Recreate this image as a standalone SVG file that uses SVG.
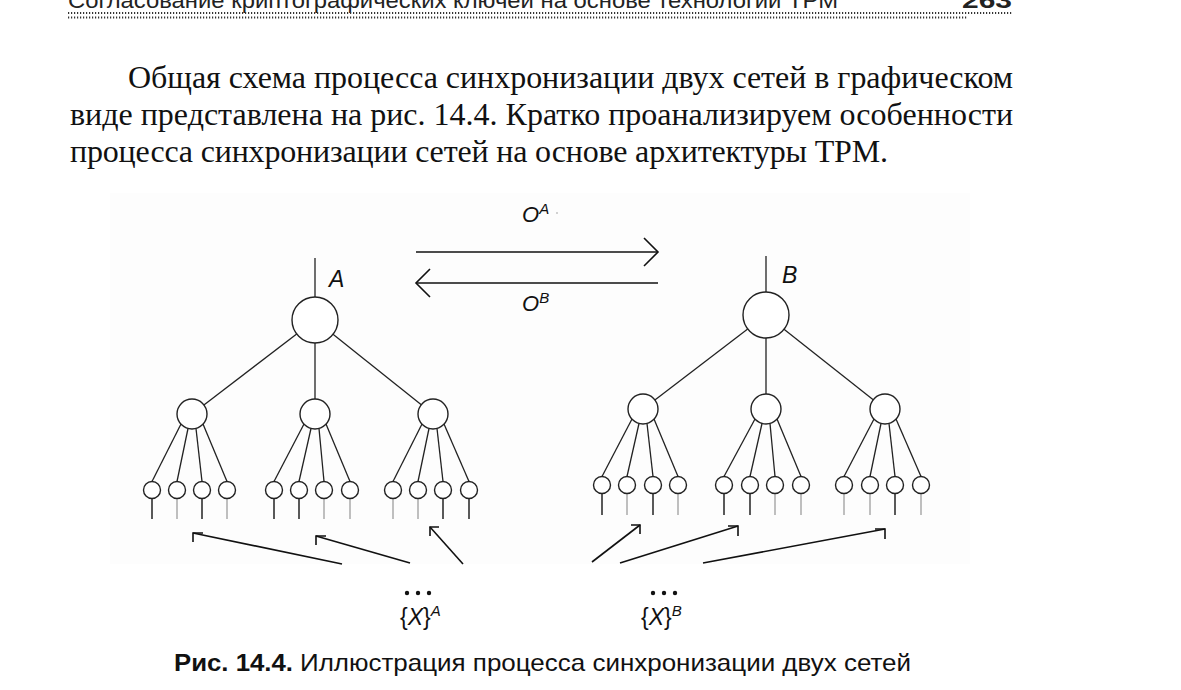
<svg xmlns="http://www.w3.org/2000/svg" width="1181" height="690" viewBox="0 0 1181 690">
<defs>
<style>
.hdr{font-family:"Liberation Sans",Arial,sans-serif;font-size:22px;fill:#222}
.body{font-family:"Liberation Serif","Times New Roman",serif;font-size:32px;fill:#111}
.lbl{font-family:"Liberation Sans",Arial,sans-serif;font-style:italic;fill:#111}
.cap{font-family:"Liberation Sans",Arial,sans-serif;font-size:24px;fill:#111}
.dots{stroke:#333;stroke-width:2;stroke-dasharray:1.2 1.8;fill:none}
.edge{stroke:#222;stroke-width:1.3;fill:none}
.node{fill:#fff;stroke:#222;stroke-width:1.4}
.stemK{stroke:#222;stroke-width:1.5}
.stemG{stroke:#aaa;stroke-width:1.5}
.arr{stroke:#111;stroke-width:1.6;fill:none}
</style>
</defs>
<rect width="1181" height="690" fill="#fff"/>
<!-- running header (cut at top) -->
<text class="hdr" x="68" y="8" textLength="770" lengthAdjust="spacingAndGlyphs">Согласование криптографических ключей на основе технологии ТРМ</text>
<text class="hdr" x="962" y="8" font-weight="bold" textLength="50" lengthAdjust="spacingAndGlyphs">263</text>
<line class="dots" x1="68" y1="13" x2="1013" y2="13"/>
<line class="dots" x1="68" y1="17.5" x2="968" y2="17.5"/>
<!-- paragraph -->
<text class="body" x="128" y="88" textLength="885" lengthAdjust="spacing">Общая схема процесса синхронизации двух сетей в графическом</text>
<text class="body" x="70" y="125" textLength="943" lengthAdjust="spacing">виде представлена на рис. 14.4. Кратко проанализируем особенности</text>
<text class="body" x="70" y="162" textLength="818" lengthAdjust="spacing">процесса синхронизации сетей на основе архитектуры ТРМ.</text>
<!-- figure background -->
<rect x="110" y="193" width="860" height="371" fill="#fdfdfd"/>
<!-- exchange arrows -->
<g id="exchange">
<line class="arr" x1="416" y1="252" x2="658" y2="252"/>
<polyline class="arr" points="644,238 658,252 644,266"/>
<line class="arr" x1="416" y1="283" x2="658" y2="283"/>
<polyline class="arr" points="430,269 416,283 430,297"/>
<text class="lbl" x="522" y="222" font-size="22">O<tspan font-size="15" dy="-8">A</tspan></text>
<circle cx="557" cy="213" r="0.8" fill="#999"/>
<text class="lbl" x="522" y="311" font-size="22">O<tspan font-size="15" dy="-8">B</tspan></text>
</g>
<!-- connectors -->
<g id="connectors">
<!-- tree A -->
<line class="edge" x1="315" y1="258" x2="315" y2="297"/>
<line class="edge" x1="296.7" y1="334" x2="203.9" y2="404.9"/>
<line class="edge" x1="315" y1="343" x2="315" y2="399"/>
<line class="edge" x1="333" y1="334.3" x2="421.3" y2="404.7"/>
<line class="edge" x1="181" y1="424" x2="152" y2="481.5"/>
<line class="edge" x1="188" y1="428.5" x2="177" y2="481.5"/>
<line class="edge" x1="196" y1="428.5" x2="202" y2="481.5"/>
<line class="edge" x1="203" y1="424" x2="227" y2="481.5"/>
<line class="edge" x1="304" y1="424" x2="274" y2="481.5"/>
<line class="edge" x1="311" y1="428.5" x2="299" y2="481.5"/>
<line class="edge" x1="319" y1="428.5" x2="324" y2="481.5"/>
<line class="edge" x1="326" y1="424" x2="350" y2="481.5"/>
<line class="edge" x1="422" y1="424" x2="393" y2="481.5"/>
<line class="edge" x1="429" y1="428.5" x2="418" y2="481.5"/>
<line class="edge" x1="437" y1="428.5" x2="443" y2="481.5"/>
<line class="edge" x1="444" y1="424" x2="469" y2="481.5"/>
<!-- tree B -->
<line class="edge" x1="766" y1="256" x2="766" y2="292"/>
<line class="edge" x1="747.7" y1="329" x2="654.9" y2="399.9"/>
<line class="edge" x1="766" y1="338" x2="766" y2="394"/>
<line class="edge" x1="784" y1="329.3" x2="873.2" y2="399.7"/>
<line class="edge" x1="632" y1="419" x2="602" y2="476.5"/>
<line class="edge" x1="639" y1="423.5" x2="627" y2="476.5"/>
<line class="edge" x1="647" y1="423.5" x2="653" y2="476.5"/>
<line class="edge" x1="654" y1="419" x2="678" y2="476.5"/>
<line class="edge" x1="755" y1="419" x2="724" y2="476.5"/>
<line class="edge" x1="762" y1="423.5" x2="750" y2="476.5"/>
<line class="edge" x1="770" y1="423.5" x2="775" y2="476.5"/>
<line class="edge" x1="777" y1="419" x2="801" y2="476.5"/>
<line class="edge" x1="874" y1="419" x2="844" y2="476.5"/>
<line class="edge" x1="881" y1="423.5" x2="870" y2="476.5"/>
<line class="edge" x1="889" y1="423.5" x2="895" y2="476.5"/>
<line class="edge" x1="896" y1="419" x2="921" y2="476.5"/>
<!-- stems A -->
<line class="stemK" x1="152" y1="498.5" x2="152" y2="519"/>
<line class="stemG" x1="177" y1="498.5" x2="177" y2="519"/>
<line class="stemK" x1="202" y1="498.5" x2="202" y2="519"/>
<line class="stemG" x1="227" y1="498.5" x2="227" y2="519"/>
<line class="stemK" x1="274" y1="498.5" x2="274" y2="519"/>
<line class="stemK" x1="299" y1="498.5" x2="299" y2="519"/>
<line class="stemG" x1="324" y1="498.5" x2="324" y2="519"/>
<line class="stemG" x1="350" y1="498.5" x2="350" y2="519"/>
<line class="stemG" x1="393" y1="498.5" x2="393" y2="519"/>
<line class="stemG" x1="418" y1="498.5" x2="418" y2="519"/>
<line class="stemK" x1="443" y1="498.5" x2="443" y2="519"/>
<line class="stemK" x1="469" y1="498.5" x2="469" y2="519"/>
<!-- stems B -->
<line class="stemK" x1="602" y1="493.5" x2="602" y2="515"/>
<line class="stemG" x1="627" y1="493.5" x2="627" y2="515"/>
<line class="stemK" x1="653" y1="493.5" x2="653" y2="515"/>
<line class="stemG" x1="678" y1="493.5" x2="678" y2="515"/>
<line class="stemK" x1="724" y1="493.5" x2="724" y2="515"/>
<line class="stemK" x1="750" y1="493.5" x2="750" y2="515"/>
<line class="stemG" x1="775" y1="493.5" x2="775" y2="515"/>
<line class="stemG" x1="801" y1="493.5" x2="801" y2="515"/>
<line class="stemG" x1="844" y1="493.5" x2="844" y2="515"/>
<line class="stemG" x1="870" y1="493.5" x2="870" y2="515"/>
<line class="stemK" x1="895" y1="493.5" x2="895" y2="515"/>
<line class="stemG" x1="921" y1="493.5" x2="921" y2="515"/>
<!-- input arrows A -->
<line class="arr" x1="342" y1="564" x2="193" y2="533"/>
<polyline class="arr" points="203,533 193,533 193,542"/>
<line class="arr" x1="410" y1="563" x2="316" y2="536"/>
<polyline class="arr" points="326,536 316,536 316,545"/>
<line class="arr" x1="463" y1="564" x2="430" y2="527" stroke-width="1.3"/>
<polyline class="arr" points="439,527 430,527 430,536" stroke-width="1.3"/>
<!-- input arrows B -->
<line class="arr" x1="592" y1="562" x2="640" y2="525" stroke-width="1.3"/>
<polyline class="arr" points="631,525 640,525 640,534" stroke-width="1.3"/>
<line class="arr" x1="620" y1="563" x2="738" y2="526"/>
<polyline class="arr" points="728,526 738,526 738,536"/>
<line class="arr" x1="703" y1="563" x2="885" y2="529"/>
<polyline class="arr" points="875,529 885,529 885,539"/>
</g>
<!-- nodes tree A -->
<g id="A-root"><circle class="node" cx="315" cy="320" r="23"/><text class="lbl" x="329" y="287" font-size="23">A</text></g>
<g id="A-h1"><circle class="node" cx="192" cy="414" r="15"/></g>
<g id="A-h2"><circle class="node" cx="315" cy="414" r="15"/></g>
<g id="A-h3"><circle class="node" cx="433" cy="414" r="15"/></g>
<g id="A-leaves">
<circle class="node" cx="152" cy="490" r="8.5"/><circle class="node" cx="177" cy="490" r="8.5"/><circle class="node" cx="202" cy="490" r="8.5"/><circle class="node" cx="227" cy="490" r="8.5"/>
<circle class="node" cx="274" cy="490" r="8.5"/><circle class="node" cx="299" cy="490" r="8.5"/><circle class="node" cx="324" cy="490" r="8.5"/><circle class="node" cx="350" cy="490" r="8.5"/>
<circle class="node" cx="393" cy="490" r="8.5"/><circle class="node" cx="418" cy="490" r="8.5"/><circle class="node" cx="443" cy="490" r="8.5"/><circle class="node" cx="469" cy="490" r="8.5"/>
</g>
<!-- nodes tree B -->
<g id="B-root"><circle class="node" cx="766" cy="315" r="23"/><text class="lbl" x="782" y="283" font-size="23">B</text></g>
<g id="B-h1"><circle class="node" cx="643" cy="409" r="15"/></g>
<g id="B-h2"><circle class="node" cx="766" cy="409" r="15"/></g>
<g id="B-h3"><circle class="node" cx="885" cy="409" r="15"/></g>
<g id="B-leaves">
<circle class="node" cx="602" cy="485" r="8.5"/><circle class="node" cx="627" cy="485" r="8.5"/><circle class="node" cx="653" cy="485" r="8.5"/><circle class="node" cx="678" cy="485" r="8.5"/>
<circle class="node" cx="724" cy="485" r="8.5"/><circle class="node" cx="750" cy="485" r="8.5"/><circle class="node" cx="775" cy="485" r="8.5"/><circle class="node" cx="801" cy="485" r="8.5"/>
<circle class="node" cx="844" cy="485" r="8.5"/><circle class="node" cx="870" cy="485" r="8.5"/><circle class="node" cx="895" cy="485" r="8.5"/><circle class="node" cx="921" cy="485" r="8.5"/>
</g>
<!-- input sets -->
<g id="XA">
<circle cx="407" cy="593" r="2.2" fill="#111"/><circle cx="418" cy="593" r="2.2" fill="#111"/><circle cx="429" cy="593" r="2.2" fill="#111"/>
<text class="lbl" x="400" y="625" font-size="23"><tspan font-style="normal">{</tspan>X<tspan font-style="normal">}</tspan><tspan font-size="15" dy="-9">A</tspan></text>
</g>
<g id="XB">
<circle cx="653" cy="593" r="2.2" fill="#111"/><circle cx="664" cy="593" r="2.2" fill="#111"/><circle cx="675" cy="593" r="2.2" fill="#111"/>
<text class="lbl" x="641" y="625" font-size="23"><tspan font-style="normal">{</tspan>X<tspan font-style="normal">}</tspan><tspan font-size="15" dy="-9">B</tspan></text>
</g>
<!-- caption -->
<text class="cap" x="174" y="671" font-weight="bold" textLength="119" lengthAdjust="spacingAndGlyphs">Рис. 14.4.</text>
<text class="cap" x="300" y="671" textLength="611" lengthAdjust="spacingAndGlyphs">Иллюстрация процесса синхронизации двух сетей</text>
</svg>
